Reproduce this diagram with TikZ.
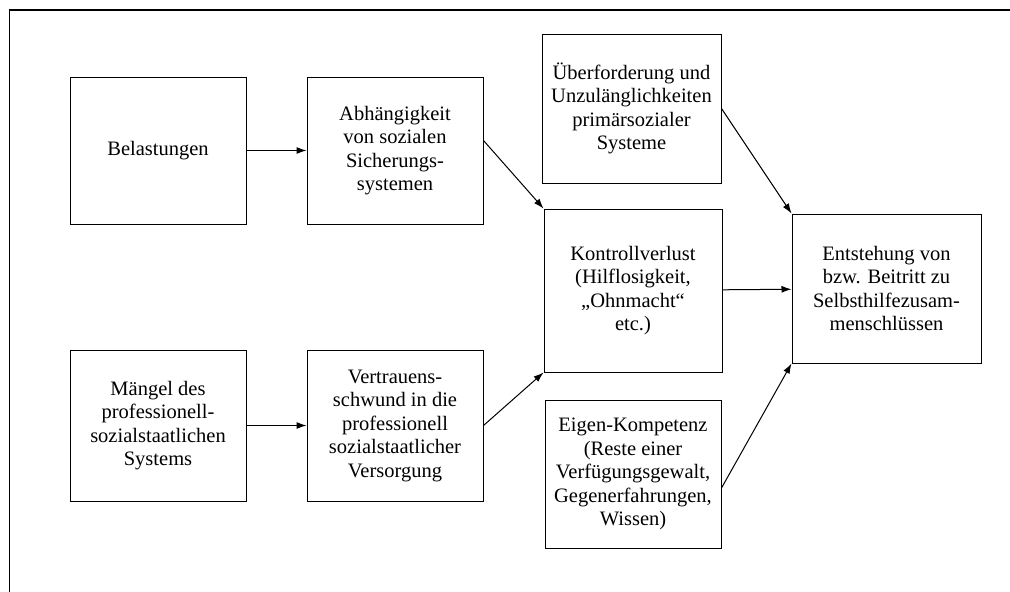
\documentclass[tikz,border=0pt]{standalone}
\usepackage{fontspec}
\setmainfont{Liberation Serif}
\usetikzlibrary{arrows.meta}
\begin{document}
\begin{tikzpicture}[x=1pt,y=-1pt,
    kasten/.style={draw,line width=1pt,align=center,inner sep=0pt,font=\fontsize{20.5}{23.5}\selectfont},
    pfeil/.style={-{Latex[length=10pt,width=7pt]},line width=1pt}]
        \useasboundingbox (0,0) rectangle (1010,592);
        \draw[line width=1.6pt] (9.5,592) -- (9.5,10) -- (1010,10);
        % linke Spalte
        \node[kasten,minimum width=176pt,minimum height=147pt] (belastung) at (158,150.5) {Belastungen};
        \node[kasten,minimum width=176pt,minimum height=151pt] (maengel) at (158,425.5) {Mängel des\\professionell-\\sozialstaatlichen\\Systems};
        % mittlere Spalte
        \node[kasten,minimum width=176pt,minimum height=147pt] (abhaengig) at (395,150.5) {Abhängigkeit\\von sozialen\\Sicherungs-\\systemen};
        \node[kasten,minimum width=176pt,minimum height=151pt] (vertrauen) at (395,425.5) {Vertrauens-\\schwund in die\\professionell\\sozialstaatlicher\\Versorgung};
        % rechte Spalte
        \node[kasten,minimum width=179pt,minimum height=149pt] (ueberford) at (631.5,108.5) {Überforderung und\\Unzulänglichkeiten\\primärsozialer\\Systeme};
        \node[kasten,minimum width=178pt,minimum height=163pt] (kontrolle) at (633,290.5) {Kontrollverlust\\(Hilflosigkeit,\\„Ohnmacht“\\etc.)};
        \node[kasten,minimum width=176pt,minimum height=148pt] (kompetenz) at (633,474) {Eigen-Kompetenz\\(Reste einer\\Verfügungsgewalt,\\Gegenerfahrungen,\\Wissen)};
        \node[kasten,minimum width=189pt,minimum height=149pt] (entstehung) at (886.5,288.5) {Entstehung von\\bzw. Beitritt zu\\Selbsthilfezusam-\\menschlüssen};
        % Pfeile
        \draw[pfeil] (belastung) -- (abhaengig);
        \draw[pfeil] (maengel) -- (vertrauen);
        \draw[pfeil] ([yshift=10pt]abhaengig.east) -- (kontrolle.north west);
        \draw[pfeil] (vertrauen.east) -- (kontrolle.south west);
        \draw[pfeil] (ueberford.east) -- (entstehung.north west);
        \draw[pfeil] (kontrolle) -- (entstehung);
        \draw[pfeil] ([yshift=-14pt]kompetenz.east) -- (entstehung.south west);
    \end{tikzpicture}
\end{document}
